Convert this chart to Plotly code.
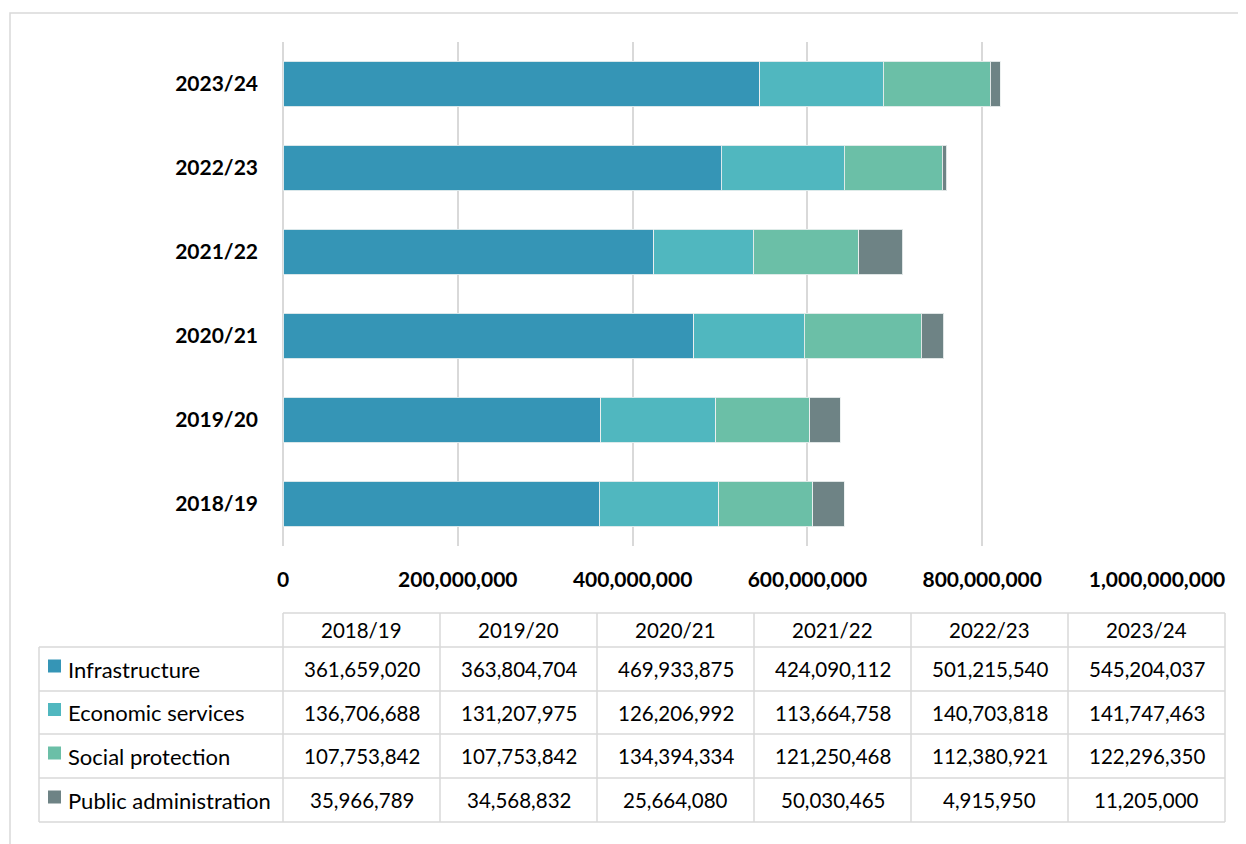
import plotly.graph_objects as go

years = ["2018/19", "2019/20", "2020/21", "2021/22", "2022/23", "2023/24"]
series_names = ["Infrastructure", "Economic services", "Social protection", "Public administration"]
infrastructure = [361659020, 363804704, 469933875, 424090112, 501215540, 545204037]
economic_services = [136706688, 131207975, 126206992, 113664758, 140703818, 141747463]
social_protection = [107753842, 107753842, 134394334, 121250468, 112380921, 122296350]
public_administration = [35966789, 34568832, 25664080, 50030465, 4915950, 11205000]
colors = ["#3595B6", "#50B7BF", "#6BBFA7", "#6E8385"]
x_ticks = [0, 200000000, 400000000, 600000000, 800000000, 1000000000]

series_values = [infrastructure, economic_services, social_protection, public_administration]

OFF = 8  # browser body margin
W, H = 1246 - OFF, 844 - OFF
L, R, T, B = 283 - OFF, 1157 - OFF, 42 - OFF, 546 - OFF
FONT = "Lato"
GRID = "#D9D9D9"

def px(x):
    return (x - OFF - L) / (R - L)

def py(y):
    return (B - (y - OFF)) / (B - T)

fig = go.Figure()
for name, vals, col in zip(series_names, series_values, colors):
    fig.add_trace(go.Bar(
        y=years, x=vals, name=name, orientation="h",
        marker=dict(color=col, line=dict(color="rgba(235,240,240,0.9)", width=1)),
        hoverinfo="x+name",
    ))

shapes = []
annotations = []

# outer frame
shapes.append(dict(type="rect", xref="paper", yref="paper",
                   x0=px(10), x1=px(1262), y0=py(13), y1=py(870),
                   line=dict(color=GRID, width=1.5), layer="below"))

# table geometry
col_x = [283 + 157 * k for k in range(7)]
label_left = 39
row_y = [613, 647, 691, 734, 778, 822]
tline = dict(color=GRID, width=1.5)

shapes.append(dict(type="line", xref="paper", yref="paper",
                   x0=px(col_x[0]), x1=px(col_x[-1]), y0=py(row_y[0]), y1=py(row_y[0]), line=tline))
for yy in row_y[1:]:
    shapes.append(dict(type="line", xref="paper", yref="paper",
                       x0=px(label_left), x1=px(col_x[-1]), y0=py(yy), y1=py(yy), line=tline))
shapes.append(dict(type="line", xref="paper", yref="paper",
                   x0=px(label_left), x1=px(label_left), y0=py(row_y[1]), y1=py(row_y[-1]), line=tline))
for xx in col_x:
    shapes.append(dict(type="line", xref="paper", yref="paper",
                       x0=px(xx), x1=px(xx), y0=py(row_y[0]), y1=py(row_y[-1]), line=tline))

num_font = dict(family=FONT, size=20.5, color="#000000")
label_font = dict(family=FONT, size=22, color="#000000")
for i, yr in enumerate(years):
    cx = (col_x[i] + col_x[i + 1]) / 2
    cy = (row_y[0] + row_y[1]) / 2
    annotations.append(dict(xref="paper", yref="paper", x=px(cx), y=py(cy), text=yr,
                            showarrow=False, xanchor="center", yanchor="middle", font=num_font))
for r, (name, vals, col) in enumerate(zip(series_names, series_values, colors)):
    cy = (row_y[r + 1] + row_y[r + 2]) / 2
    shapes.append(dict(type="rect", xref="paper", yref="paper",
                       x0=px(48), x1=px(61), y0=py(cy - 9.5), y1=py(cy + 3.5),
                       fillcolor=col, line=dict(width=0)))
    annotations.append(dict(xref="paper", yref="paper", x=px(66), y=py(cy), text=name,
                            showarrow=False, xanchor="left", yanchor="middle", font=label_font))
    for i, v in enumerate(vals):
        cx = (col_x[i] + col_x[i + 1]) / 2
        annotations.append(dict(xref="paper", yref="paper", x=px(cx), y=py(cy), text=f"{v:,}",
                                showarrow=False, xanchor="center", yanchor="middle", font=num_font))

fig.update_layout(
    barmode="stack",
    bargap=0.46,
    width=W, height=H,
    margin=dict(l=L, r=W - R, t=T, b=H - B, autoexpand=False),
    paper_bgcolor="white", plot_bgcolor="white",
    showlegend=False,
    font=dict(family=FONT, color="#000000"),
    shapes=shapes,
    annotations=annotations,
    xaxis=dict(range=[0, 1000000000], tickvals=x_ticks, tickformat=",",
               showgrid=True, gridcolor=GRID, gridwidth=2,
               zeroline=True, zerolinecolor=GRID, zerolinewidth=2,
               showline=False, ticks="", ticklabelstandoff=19,
               tickfont=dict(family=FONT, size=21, weight="bold", color="#000000")),
    yaxis=dict(showgrid=False, zeroline=False, showline=False, ticks="",
               ticklabelstandoff=24,
               tickfont=dict(family=FONT, size=21, weight="bold", color="#000000")),
)

fig.write_html("out.html")
